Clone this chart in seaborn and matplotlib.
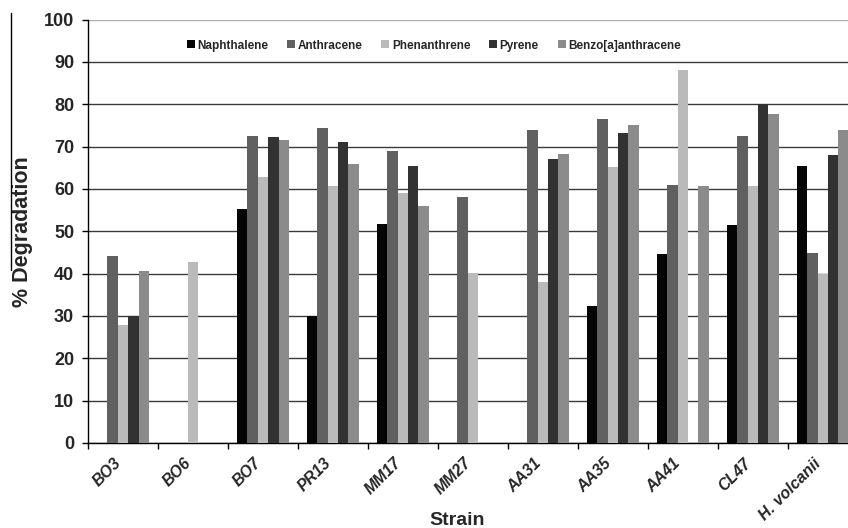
import pandas as pd
import seaborn as sns
import matplotlib.pyplot as plt
import matplotlib.transforms as mtransforms
from matplotlib.lines import Line2D

# --- Data ---
strains = ["BO3", "BO6", "BO7", "PR13", "MM17", "MM27",
           "AA31", "AA35", "AA41", "CL47", "H. volcanii"]
naphthalene = [0, 0, 55.2, 29.9, 51.7, 0, 0, 32.3, 44.6, 51.5, 65.4]
anthracene = [44.2, 0, 72.6, 74.5, 68.9, 58.2, 73.8, 76.6, 60.9, 72.4, 44.9]
phenanthrene = [27.8, 42.7, 62.9, 60.7, 59.1, 40.2, 38.0, 65.1, 88.1, 60.6, 40.0]
pyrene = [30.0, 0, 72.3, 71.1, 65.5, 0, 67.0, 73.1, 0, 80.0, 68.0]
benzo = [40.6, 0, 71.6, 65.9, 56.0, 0, 68.3, 75.2, 60.7, 77.6, 73.8]

compounds = ["Naphthalene", "Anthracene", "Phenanthrene", "Pyrene", "Benzo[a]anthracene"]
colors = ["#050505", "#606060", "#bababa", "#323232", "#8b8b8b"]

# --- Build long-form table ---
series = [naphthalene, anthracene, phenanthrene, pyrene, benzo]
rows = []
for comp, vals in zip(compounds, series):
    for s, v in zip(strains, vals):
        rows.append({"Strain": s, "Compound": comp, "Degradation": v})
df = pd.DataFrame(rows)

sns.set_theme(style="white")
plt.rcParams["font.family"] = ["Liberation Sans", "DejaVu Sans"]

fig = plt.figure(figsize=(8.48, 5.28), dpi=100)
# axes run past the right edge, like the cropped original
ax = fig.add_axes([0.1038, 0.161, 0.9078, 0.802])

sns.barplot(data=df, x="Strain", y="Degradation", hue="Compound",
            hue_order=compounds, palette=colors, width=0.74, gap=0,
            saturation=1, ax=ax, zorder=3, linewidth=0)

ax.set_ylim(0, 100)
ax.set_xlim(-0.5, len(strains) - 0.5)
ax.set_yticks(range(0, 101, 10))
ax.yaxis.grid(True, color="#3a3a3a", linewidth=1.0, zorder=0)
ax.get_ygridlines()[-1].set_color("#b0b0b0")
ax.set_axisbelow(True)

for side in ["top", "right"]:
    ax.spines[side].set_visible(False)
for side in ["left", "bottom"]:
    ax.spines[side].set_color("black")
    ax.spines[side].set_linewidth(1.0)

# tick marks at category boundaries, labels at centres
ax.set_xticks([i - 0.5 for i in range(len(strains) + 1)], minor=True)
ax.tick_params(axis="x", which="minor", length=4.5, width=1, color="black", direction="out", bottom=True)
ax.tick_params(axis="x", which="major", length=0, pad=9)
ax.tick_params(axis="y", which="major", length=4.5, width=1, color="black", direction="out", left=True, pad=5.5)

ax.set_xticklabels(strains, rotation=45, ha="right", rotation_mode="anchor",
                   fontsize=11.5, fontweight="bold", style="italic")
shift = mtransforms.ScaledTranslation(-7 / 72, 0, fig.dpi_scale_trans)
for lab in ax.get_xticklabels():
    lab.set_transform(lab.get_transform() + shift)
for lab in ax.get_yticklabels():
    lab.set_fontsize(13)
    lab.set_fontweight("bold")

ax.set_xlabel("Strain", fontsize=14, fontweight="bold", va="top")
ax.xaxis.set_label_coords(0.479, -0.163)
ax.set_ylabel("% Degradation", fontsize=15.5, fontweight="bold", labelpad=7.5)

ax.legend(loc="center left", bbox_to_anchor=(0.1286, 0.9385), ncol=5, frameon=False,
          prop={"weight": "bold", "size": 8.5}, borderpad=0, borderaxespad=0,
          handlelength=0.68, handleheight=0.68, handletextpad=0.2, columnspacing=1.6)

# thin border line at the far left of the scanned figure
fig.add_artist(Line2D([10.5 / 848, 10.5 / 848], [1 - 13 / 528, 1 - 270 / 528],
                      transform=fig.transFigure, color="black", linewidth=1.0))

fig.savefig("out.png", dpi=100)
